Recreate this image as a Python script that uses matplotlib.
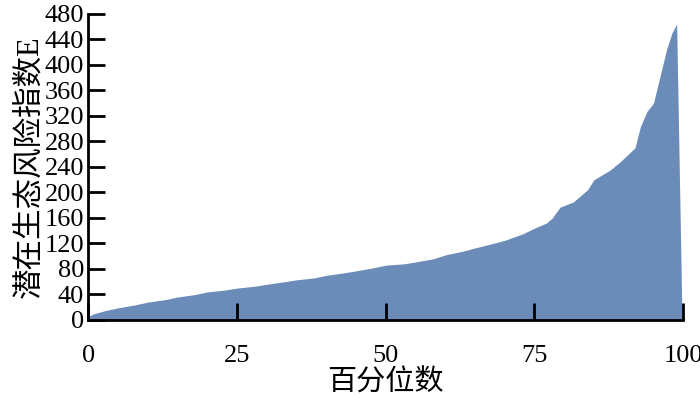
import numpy as np
import matplotlib.pyplot as plt

plt.rcParams['font.family'] = ['Liberation Serif', 'Noto Sans CJK SC']

# percentile vs. potential ecological risk index E
percentile = [0, 0.5, 1, 3, 5, 8, 10, 13, 15, 18, 20, 23, 25, 28, 30, 33, 35, 38, 40,
              43, 45, 48, 50, 53, 55, 58, 60, 63, 65, 68, 70, 73, 75, 77, 78, 79.3,
              81.5, 83.9, 85, 87.7, 89.4, 91.9, 92.8, 93.9, 95, 96.1, 97.2, 98.1,
              98.9, 99.8]
risk_e = [4, 8, 10, 15, 19, 24, 28, 32, 36, 40, 44, 47, 50, 53, 56, 60, 63, 66, 70,
          74, 77, 82, 86, 88, 91, 96, 102, 108, 113, 120, 125, 135, 144, 152, 160, 177,
          185, 204, 220, 235, 248, 270, 303, 327, 340, 382, 424, 450, 464, 0]

fig = plt.figure(figsize=(7, 3.98), dpi=100)
ax = fig.add_axes([0.126, 0.196, 0.85, 0.769])

ax.fill_between(percentile, risk_e, 0, color='#6b8cb9', linewidth=0)

ax.set_xlim(0, 100)
ax.set_ylim(0, 480)
ax.set_xticks([0, 25, 50, 75, 100])
ax.set_yticks(np.arange(0, 481, 40))

for s in ['top', 'right']:
    ax.spines[s].set_visible(False)
for s in ['left', 'bottom']:
    ax.spines[s].set_linewidth(2)
ax.tick_params(direction='in', length=12, width=2, labelsize=19, pad=3)
ax.tick_params(axis='x', pad=18)

ax.set_xlabel('百分位数', fontsize=21, labelpad=2)
ax.set_ylabel('潜在生态风险指数E', fontsize=22, labelpad=0)

fig.savefig('out.png', dpi=100)
plt.close(fig)
